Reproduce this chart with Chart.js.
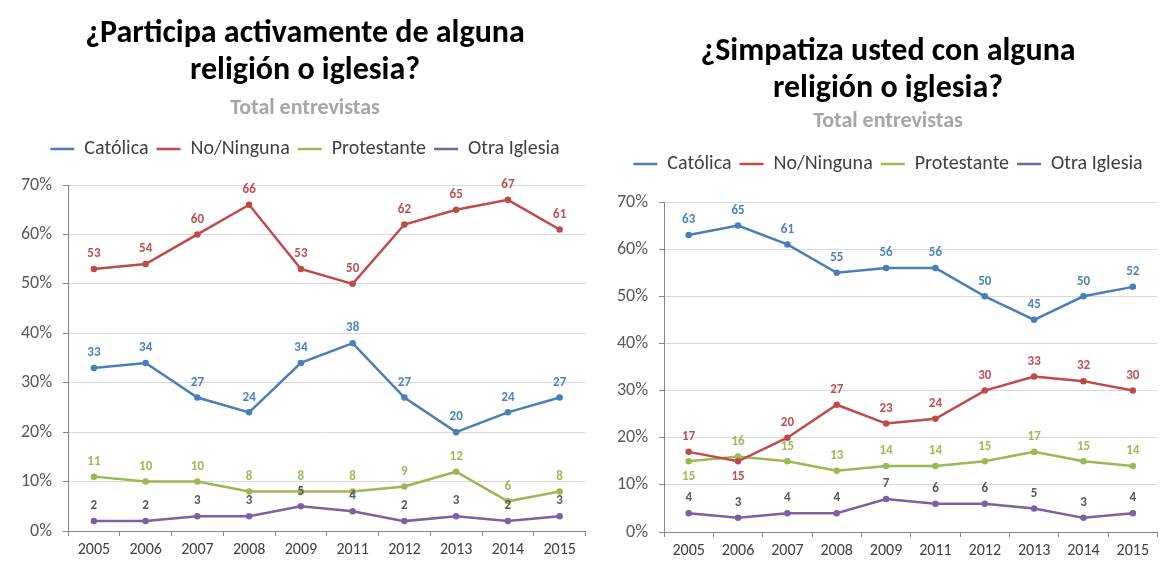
<!DOCTYPE html>
<html lang="es">
<head>
<meta charset="utf-8">
<title>Religión — Total entrevistas</title>
<script src="https://cdn.jsdelivr.net/npm/chart.js@4.4.1/dist/chart.umd.min.js"></script>
<style>
  html, body { margin: 0; padding: 0; background: #fff; }
  #wrap { position: relative; width: 1162px; height: 563px; overflow: hidden; }
  canvas { position: absolute; top: 0; }
  #left { left: 0; }
  #right { left: 590px; }
</style>
</head>
<body>
<div id="wrap">
  <canvas id="left" width="590" height="563"></canvas>
  <canvas id="right" width="572" height="563"></canvas>
</div>
<script>
"use strict";

const YEARS = ["2005", "2006", "2007", "2008", "2009", "2011", "2012", "2013", "2014", "2015"];
const SERIES = ["Católica", "No/Ninguna", "Protestante", "Otra Iglesia"];

// ¿Participa activamente...? (%)
const PART_CATOLICA = [33, 34, 27, 24, 34, 38, 27, 20, 24, 27];
const PART_NINGUNA = [53, 54, 60, 66, 53, 50, 62, 65, 67, 61];
const PART_PROTESTANTE = [11, 10, 10, 8, 8, 8, 9, 12, 6, 8];
const PART_OTRA = [2, 2, 3, 3, 5, 4, 2, 3, 2, 3];

// ¿Simpatiza usted...? (%)
const SIMP_CATOLICA = [63, 65, 61, 55, 56, 56, 50, 45, 50, 52];
const SIMP_NINGUNA = [17, 15, 20, 27, 23, 24, 30, 33, 32, 30];
const SIMP_PROTESTANTE = [15, 16, 15, 13, 14, 14, 15, 17, 15, 14];
const SIMP_OTRA = [4, 3, 4, 4, 7, 6, 6, 5, 3, 4];

const LINE_COLORS = ["#4A7EBB", "#BE4B48", "#98B954", "#7D60A0"];
const LABEL_COLORS = ["#4F81BD", "#C0504D", "#9BBB59", "#595959"];
const FONT = "Carlito, Lato, sans-serif";

Chart.defaults.font.family = FONT;

// value labels drawn above each point (a few sit below, as in the original)
const pointLabels = {
  id: "pointLabels",
  afterDatasetsDraw(chart, _args, opts) {
    const ctx = chart.ctx;
    ctx.save();
    ctx.font = `bold 13px ${FONT}`;
    ctx.textAlign = "center";
    ctx.textBaseline = "middle";
    chart.data.datasets.forEach((ds, di) => {
      chart.getDatasetMeta(di).data.forEach((pt, i) => {
        const below = opts.below.some(([d, j]) => d === di && j === i);
        ctx.fillStyle = LABEL_COLORS[di];
        ctx.fillText(String(ds.data[i]), pt.x, pt.y + (below ? opts.offset : -opts.offset));
      });
    });
    ctx.restore();
  },
};

// push the plot down a little below the legend
const legendGap = {
  id: "legendGap",
  beforeLayout(chart, _args, opts) {
    const legend = chart.legend;
    if (!legend || legend._gapPatched) return;
    const fit = legend.fit;
    legend.fit = function () {
      fit.call(this);
      this.height += opts.extra;
    };
    legend._gapPatched = true;
  },
};

function datasets(values) {
  return values.map((data, i) => ({
    label: SERIES[i],
    data,
    borderColor: LINE_COLORS[i],
    backgroundColor: LINE_COLORS[i],
    borderWidth: 2.5,
    pointRadius: 2,
    pointHoverRadius: 2,
    tension: 0,
  }));
}

function makeChart(id, titleLines, values, L) {
  return new Chart(document.getElementById(id), {
    type: "line",
    data: { labels: YEARS, datasets: datasets(values) },
    plugins: [pointLabels, legendGap],
    options: {
      responsive: false,
      animation: false,
      events: [],
      layout: { padding: { left: L.padLeft, right: L.padRight, top: 0, bottom: 0 } },
      scales: {
        x: {
          offset: true,
          afterFit: (s) => { s.height = L.xHeight; },
          border: { display: true, color: "#868686", width: 1 },
          grid: { display: true, offset: true, drawOnChartArea: false, drawTicks: true, tickLength: 5, color: "#868686" },
          ticks: { color: "#404040", font: { size: 16 }, padding: 4, maxRotation: 0, autoSkip: false },
        },
        y: {
          min: 0,
          max: 70,
          afterFit: (s) => { s.width = L.yWidth; },
          border: { display: true, color: "#868686", width: 1 },
          grid: { color: "#D9D9D9", lineWidth: 1, tickLength: 5, tickColor: "#868686" },
          ticks: { stepSize: 10, color: "#595959", font: { size: 18 }, padding: 11, callback: (v) => v + "%" },
        },
      },
      plugins: {
        tooltip: { enabled: false },
        title: {
          display: true,
          text: titleLines,
          color: "#000000",
          font: { size: 32, weight: "bold", lineHeight: 37 / 32 },
          padding: { top: L.titleTop, bottom: 0 },
        },
        subtitle: {
          display: true,
          text: "Total entrevistas",
          color: "#A6A6A6",
          font: { size: 22, weight: "bold", lineHeight: 1.2 },
          padding: { top: L.subTop, bottom: L.subBottom },
        },
        legend: {
          display: true,
          labels: {
            color: "#404040",
            font: { size: 20 },
            usePointStyle: true,
            pointStyle: "line",
            pointStyleWidth: 24,
            boxHeight: 20,
            padding: 8,
          },
        },
        legendGap: { extra: L.legendExtra },
        pointLabels: { offset: 15, below: L.below },
      },
    },
  });
}

makeChart(
  "left",
  ["¿Participa activamente de alguna", "religión o iglesia?"],
  [PART_CATOLICA, PART_NINGUNA, PART_PROTESTANTE, PART_OTRA],
  { padLeft: 21, padRight: 1, yWidth: 47, xHeight: 32, titleTop: 15, subTop: 5.8, subBottom: 9.8, legendExtra: 16, below: [] }
);

makeChart(
  "right",
  ["¿Simpatiza usted con alguna", "religión o iglesia?"],
  [SIMP_CATOLICA, SIMP_NINGUNA, SIMP_PROTESTANTE, SIMP_OTRA],
  { padLeft: 24, padRight: 0, yWidth: 50, xHeight: 31, titleTop: 33, subTop: 0.8, subBottom: 11.8, legendExtra: 18, below: [[2, 0], [1, 1]] }
);
</script>
</body>
</html>
